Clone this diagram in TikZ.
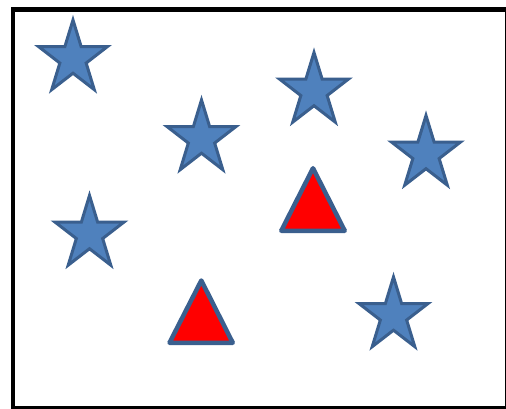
\documentclass[tikz,border=0pt]{standalone}
\definecolor{starfill}{HTML}{4F81BD}
\definecolor{starline}{HTML}{3A5F8E}
\tikzset{
  starpath/.style={fill=starfill, draw=starline, line width=3pt, line join=miter},
  tripath/.style={fill=red, draw=starline, line width=4.5pt, line join=round},
  frame/.style={draw=black, line width=4.5pt}
}
\newcommand{\mystar}[2]{%
  \path[starpath] (#1,#2)
    \foreach \k in {0,...,4}{
      ++(0,0) -- ($(#1,#2)+({36.2*cos(90+72*\k)},{-38.5*sin(90+72*\k)})$)
      -- ($(#1,#2)+({0.382*36.2*cos(126+72*\k)},{-0.382*38.5*sin(126+72*\k)})$)
    } -- cycle;}
\usetikzlibrary{calc}
\begin{document}
\begin{tikzpicture}[x=1pt,y=-1pt]
\useasboundingbox (0,0) rectangle (506,409);
\fill[white] (0,0) rectangle (506,409);
\node[frame, minimum width=494pt, minimum height=398.5pt, inner sep=0pt, anchor=north west] (border) at (10.5,7.5) {};
% stars
\foreach \cx/\cy [count=\i] in {73/58.5, 201.5/138.5, 314/91, 426/154, 89.5/234, 393.5/315.5}{
  \coordinate (s\i) at (\cx,\cy);
  \path[starpath] ($(s\i)+(0,-38.5)$)
    -- ($(s\i)+({0.382*36.2*cos(54)},{-0.382*38.5*sin(54)})$)
    -- ($(s\i)+({36.2*cos(18)},{-38.5*sin(18)})$)
    -- ($(s\i)+({0.382*36.2*cos(-18)},{-0.382*38.5*sin(-18)})$)
    -- ($(s\i)+({36.2*cos(-54)},{-38.5*sin(-54)})$)
    -- ($(s\i)+({0.382*36.2*cos(-90)},{-0.382*38.5*sin(-90)})$)
    -- ($(s\i)+({36.2*cos(-126)},{-38.5*sin(-126)})$)
    -- ($(s\i)+({0.382*36.2*cos(-162)},{-0.382*38.5*sin(-162)})$)
    -- ($(s\i)+({36.2*cos(162)},{-38.5*sin(162)})$)
    -- ($(s\i)+({0.382*36.2*cos(126)},{-0.382*38.5*sin(126)})$)
    -- cycle;
}
% triangles
\coordinate (t1a) at (313,168.25);
\coordinate (t1b) at (344.75,230.75);
\coordinate (t1c) at (281.25,230.75);
\path[tripath] (t1a) -- (t1b) -- (t1c) -- cycle;
\coordinate (t2a) at (201.3,280.5);
\coordinate (t2b) at (232.75,342.75);
\coordinate (t2c) at (169.5,342.75);
\path[tripath] (t2a) -- (t2b) -- (t2c) -- cycle;
\end{tikzpicture}
\end{document}
